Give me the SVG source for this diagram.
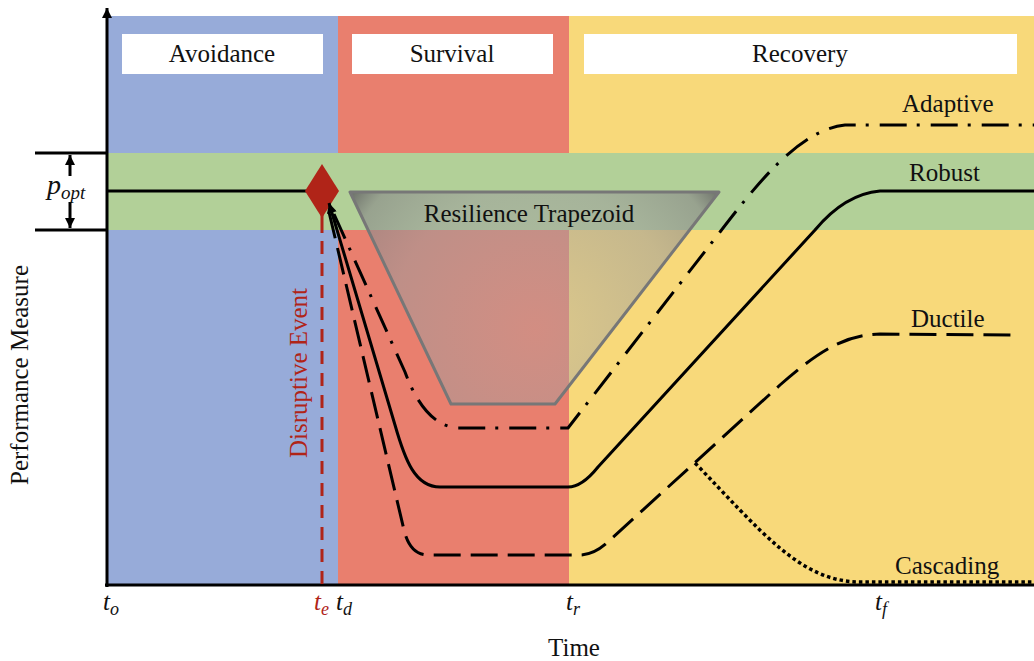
<svg xmlns="http://www.w3.org/2000/svg" width="1034" height="661" viewBox="0 0 1034 661">
<defs>
  <style>
    .lbl{font-family:"Liberation Serif","Times New Roman",serif;font-size:25px;fill:#111;}
    .mid{text-anchor:middle;}
    .it{font-style:italic;}
    .crv{fill:none;stroke:#000;stroke-width:3;stroke-linejoin:round;}
    .dash{stroke-dasharray:27 10;}
    .dashdot{stroke-dasharray:27 10 3 11;}
    .dot{stroke-width:3.5;stroke-dasharray:3.5 3;}
    .ax{stroke:#000;stroke-width:3;fill:none;}
    .box{fill:#fff;}
  </style>
  <marker id="ah" viewBox="0 0 10 10" refX="10" refY="5" markerWidth="14" markerHeight="10" markerUnits="userSpaceOnUse" orient="auto-start-reverse">
    <path d="M0,0 L10,5 L0,10 z" fill="#000"/>
  </marker>
  <marker id="ahs" viewBox="0 0 10 10" refX="10" refY="5" markerWidth="12" markerHeight="10" markerUnits="userSpaceOnUse" orient="auto">
    <path d="M0,0 L10,5 L0,10 z" fill="#000"/>
  </marker>
  <radialGradient id="trap" gradientUnits="userSpaceOnUse" cx="535" cy="330" r="240">
    <stop offset="0" stop-color="#a8a8a8" stop-opacity="0.35"/>
    <stop offset="0.6" stop-color="#9c9c9c" stop-opacity="0.55"/>
    <stop offset="0.85" stop-color="#8a8a8a" stop-opacity="0.65"/>
    <stop offset="1" stop-color="#505050" stop-opacity="0.95"/>
  </radialGradient>
</defs>

<g id="phases">
  <rect id="avoidance-bg" x="107" y="16" width="231" height="569" fill="#97abd9"/>
  <rect id="survival-bg" x="338" y="16" width="231" height="569" fill="#e97f6e"/>
  <rect id="recovery-bg" x="569" y="16" width="465" height="569" fill="#f8d97a"/>
  <rect id="popt-band" x="107" y="153" width="927" height="77" fill="#b2d098"/>
</g>

<g id="phase-labels">
  <g id="label-avoidance"><rect class="box" x="122" y="34" width="201" height="40"/><text class="lbl mid" x="222" y="62">Avoidance</text></g>
  <g id="label-survival"><rect class="box" x="352" y="34" width="201" height="40"/><text class="lbl mid" x="452" y="62">Survival</text></g>
  <g id="label-recovery"><rect class="box" x="584" y="34" width="433" height="40"/><text class="lbl mid" x="800" y="62">Recovery</text></g>
</g>

<g id="trapezoid">
  <polygon points="350,192 719,192 555,404 451,404" fill="url(#trap)" stroke="#777" stroke-width="3" stroke-linejoin="round"/>
  <text class="lbl mid" x="529" y="222">Resilience Trapezoid</text>
</g>

<g id="axes">
  <line class="ax" x1="107" y1="587" x2="107" y2="8" marker-end="url(#ahs)"/>
  <line class="ax" x1="105" y1="585" x2="1034" y2="585"/>
  <line class="ax" x1="35" y1="153" x2="107" y2="153"/>
  <line class="ax" x1="35" y1="230" x2="107" y2="230"/>
  <line x1="70" y1="176" x2="70" y2="155" stroke="#000" stroke-width="3" marker-end="url(#ahs)"/>
  <line x1="70" y1="202" x2="70" y2="228" stroke="#000" stroke-width="3" marker-end="url(#ahs)"/>
  <line class="ax" x1="107" y1="191" x2="307" y2="191"/>
</g>

<g id="disruptive-event">
  <line x1="322" y1="215" x2="322" y2="233" stroke="#b02418" stroke-width="3"/>
  <line x1="322" y1="241" x2="322" y2="585" stroke="#b02418" stroke-width="3" stroke-dasharray="13 9"/>
  <polygon points="322,164 339,191 322,218 305,191" fill="#b02418"/>
  <text class="lbl mid" x="307" y="373" style="fill:#b02418" transform="rotate(-90 307 373)">Disruptive Event</text>
</g>

<g id="connectors">
  <path id="robust" class="crv" d="M329,203 L395,425 C405,460 415,487 440,487 L568,487 Q582,487 598,467 L815,230 Q845,194 880,191 L1034,191" marker-start="url(#ah)"/>
  <path id="adaptive" class="crv dashdot" d="M334,214 L405,372 Q425,426 458,428 L568,428 L720,232 C760,180 800,130 845,125 L1034,125"/>
  <path id="ductile" class="crv dash" d="M329,212 L404,530 Q410,555 428,555 L580,555 Q595,555 610,540 L780,385 C820,350 845,335 880,334 L1020,335"/>
  <path id="cascading" class="crv dot" d="M695,463 C760,530 800,582 860,582 L1034,582"/>
</g>

<g id="curve-labels">
  <text class="lbl" x="902" y="112">Adaptive</text>
  <text class="lbl" x="909" y="181">Robust</text>
  <text class="lbl" x="911" y="327">Ductile</text>
  <text class="lbl" x="895" y="574">Cascading</text>
</g>

<g id="axis-labels">
  <text class="lbl" x="47" y="194"><tspan class="it" font-size="28">p</tspan><tspan class="it" font-size="19" dy="5">opt</tspan></text>
  <text class="lbl it" x="103" y="610" font-size="26">t<tspan font-size="18" dy="5">o</tspan></text>
  <text class="lbl it" x="314" y="610" font-size="26" style="fill:#b02418">t<tspan font-size="18" dy="5">e</tspan></text>
  <text class="lbl it" x="336" y="610" font-size="26">t<tspan font-size="18" dy="5">d</tspan></text>
  <text class="lbl it" x="566" y="610" font-size="26">t<tspan font-size="18" dy="5">r</tspan></text>
  <text class="lbl it" x="875" y="610" font-size="26">t<tspan font-size="18" dy="5">f</tspan></text>
  <text class="lbl mid" x="574" y="656">Time</text>
  <text class="lbl mid" x="28" y="375" transform="rotate(-90 28 375)">Performance Measure</text>
</g>
</svg>
